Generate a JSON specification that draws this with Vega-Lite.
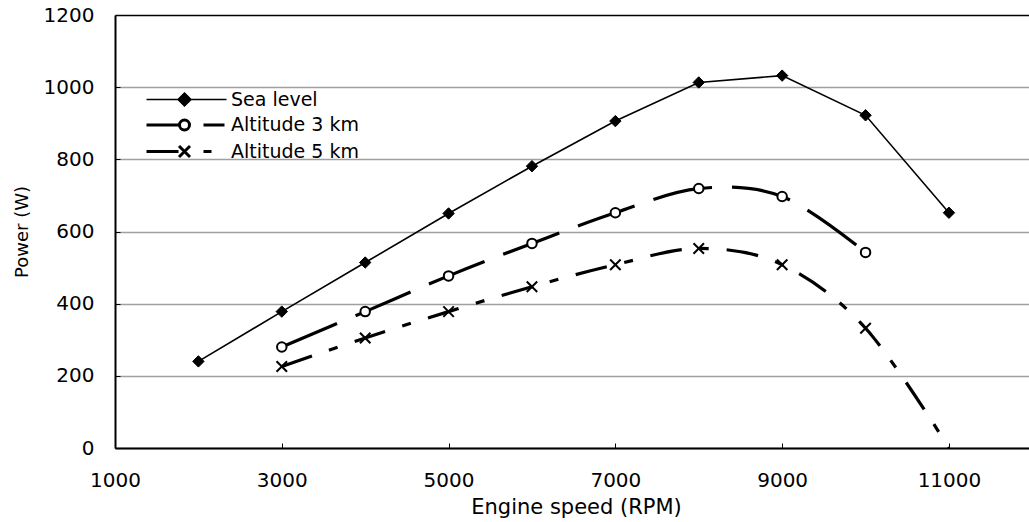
{
  "$schema": "https://vega.github.io/schema/vega-lite/v6.json",
  "width": 914,
  "height": 433,
  "autosize": {"type": "none"},
  "padding": {"left": 115, "top": 15, "right": 0, "bottom": 74},
  "background": "white",
  "config": {"view": {"stroke": null}, "font": "DejaVu Sans"},
  "data": {
    "values": [
      {"rpm": 2000, "power": 240, "series": "Sea level"},
      {"rpm": 3000, "power": 378, "series": "Sea level"},
      {"rpm": 4000, "power": 514, "series": "Sea level"},
      {"rpm": 5000, "power": 650, "series": "Sea level"},
      {"rpm": 6000, "power": 781, "series": "Sea level"},
      {"rpm": 7000, "power": 906, "series": "Sea level"},
      {"rpm": 8000, "power": 1013, "series": "Sea level"},
      {"rpm": 9000, "power": 1032, "series": "Sea level"},
      {"rpm": 10000, "power": 922, "series": "Sea level"},
      {"rpm": 11000, "power": 652, "series": "Sea level"},
      {"rpm": 3000, "power": 280, "series": "Altitude 3 km"},
      {"rpm": 4000, "power": 378, "series": "Altitude 3 km"},
      {"rpm": 5000, "power": 477, "series": "Altitude 3 km"},
      {"rpm": 6000, "power": 567, "series": "Altitude 3 km"},
      {"rpm": 7000, "power": 652, "series": "Altitude 3 km"},
      {"rpm": 8000, "power": 719, "series": "Altitude 3 km"},
      {"rpm": 9000, "power": 697, "series": "Altitude 3 km"},
      {"rpm": 10000, "power": 542, "series": "Altitude 3 km"},
      {"rpm": 3000, "power": 226, "series": "Altitude 5 km"},
      {"rpm": 4000, "power": 305, "series": "Altitude 5 km"},
      {"rpm": 5000, "power": 378, "series": "Altitude 5 km"},
      {"rpm": 6000, "power": 447, "series": "Altitude 5 km"},
      {"rpm": 7000, "power": 508, "series": "Altitude 5 km"},
      {"rpm": 8000, "power": 553, "series": "Altitude 5 km"},
      {"rpm": 9000, "power": 508, "series": "Altitude 5 km"},
      {"rpm": 10000, "power": 332, "series": "Altitude 5 km"},
      {"rpm": 11000, "power": 0, "series": "Altitude 5 km"}
    ]
  },
  "encoding": {
    "x": {
      "field": "rpm",
      "type": "quantitative",
      "scale": {"domain": [1000, 11960], "nice": false, "zero": false},
      "axis": {
        "title": "Engine speed (RPM)",
        "values": [1000, 3000, 5000, 7000, 9000, 11000],
        "format": "d",
        "grid": false,
        "domainColor": "black",
        "domainWidth": 2,
        "tickColor": "black",
        "tickSize": -5,
        "tickWidth": 1,
        "labelFont": "DejaVu Sans",
        "labelFontSize": 20,
        "labelColor": "black",
        "labelPadding": 27,
        "labelFlush": false,
        "labelOverlap": false,
        "titleFont": "DejaVu Sans",
        "titleFontSize": 21,
        "titleFontWeight": "normal",
        "titleColor": "black",
        "titleX": 461,
        "titleY": 65,
        "titleBaseline": "alphabetic"
      }
    },
    "y": {
      "field": "power",
      "type": "quantitative",
      "scale": {"domain": [0, 1200], "nice": false},
      "axis": {
        "title": "Power (W)",
        "values": [0, 200, 400, 600, 800, 1000, 1200],
        "format": "d",
        "grid": true,
        "gridColor": {"condition": {"test": "datum.value === 1200", "value": "black"}, "value": "#a0a0a0"},
        "gridWidth": 1.5,
        "domainColor": "black",
        "domainWidth": 2,
        "tickColor": "black",
        "tickSize": -5,
        "tickWidth": 1,
        "labelFont": "DejaVu Sans",
        "labelFontSize": 20,
        "labelColor": "black",
        "labelPadding": 26,
        "labelOverlap": false,
        "titleFont": "DejaVu Sans",
        "titleFontSize": 18,
        "titleFontWeight": "normal",
        "titleColor": "black",
        "titleX": -88,
        "titleBaseline": "alphabetic"
      }
    }
  },
  "layer": [
    {
      "transform": [{"filter": "datum.series === 'Sea level'"}],
      "mark": {"type": "line", "color": "black", "strokeWidth": 1.6},
      "encoding": {}
    },
    {
      "transform": [{"filter": "datum.series === 'Altitude 3 km'"}],
      "mark": {"type": "line", "color": "black", "strokeWidth": 3.2, "interpolate": "cardinal", "strokeDash": [60, 20]},
      "encoding": {}
    },
    {
      "transform": [{"filter": "datum.series === 'Altitude 5 km'"}],
      "mark": {"type": "line", "color": "black", "strokeWidth": 3.2, "interpolate": "cardinal", "strokeDash": [32, 18, 9, 18]},
      "encoding": {}
    },
    {
      "transform": [{"filter": "datum.power > 0"}],
      "mark": {"type": "point", "opacity": 1},
      "encoding": {
        "color": {
          "field": "series",
          "type": "nominal",
          "scale": {
            "domain": ["Sea level", "Altitude 3 km", "Altitude 5 km"],
            "range": ["black", "black", "black"]
          },
          "legend": {
            "orient": "none",
            "legendX": 60,
            "legendY": 75,
            "title": null,
            "padding": 0,
            "symbolSize": 100,
            "labelOffset": 37,
            "labelFont": "DejaVu Sans",
            "labelFontSize": 19,
            "labelColor": "black",
            "rowPadding": 3.5,
            "encoding": {
              "symbols": {
                "shape": {"value": {"expr": "datum.value === 'Sea level' ? 'M-7.6,0H8.4M0,-1.3L1.3,0L0,1.3L-1.3,0Z' : datum.value === 'Altitude 3 km' ? 'M-7.6,0H-1M1,0A1,1,0,1,1,-1,0A1,1,0,1,1,1,0M3.8,0H8' : 'M-7.6,0H-1.2M-1.1,-1.1L1.1,1.1M-1.1,1.1L1.1,-1.1M3.8,0H5.4'"}},
                "fill": {"value": {"expr": "datum.value === 'Sea level' ? 'black' : datum.value === 'Altitude 3 km' ? 'white' : 'transparent'"}},
                "strokeWidth": {"value": {"expr": "datum.value === 'Sea level' ? 1.5 : 3"}},
                "opacity": {"value": 1}
              }
            }
          }
        },
        "shape": {
          "condition": [
            {"test": "datum.series === 'Sea level'", "value": "diamond"},
            {"test": "datum.series === 'Altitude 3 km'", "value": "circle"}
          ],
          "value": "M-1,-1L1,1M-1,1L1,-1"
        },
        "fill": {
          "condition": [
            {"test": "datum.series === 'Sea level'", "value": "black"},
            {"test": "datum.series === 'Altitude 3 km'", "value": "white"}
          ],
          "value": "transparent"
        },
        "size": {
          "condition": [
            {"test": "datum.series === 'Sea level'", "value": 130},
            {"test": "datum.series === 'Altitude 3 km'", "value": 90}
          ],
          "value": 110
        },
        "strokeWidth": {
          "condition": {"test": "datum.series === 'Sea level'", "value": 1},
          "value": 2
        }
      }
    }
  ]
}
